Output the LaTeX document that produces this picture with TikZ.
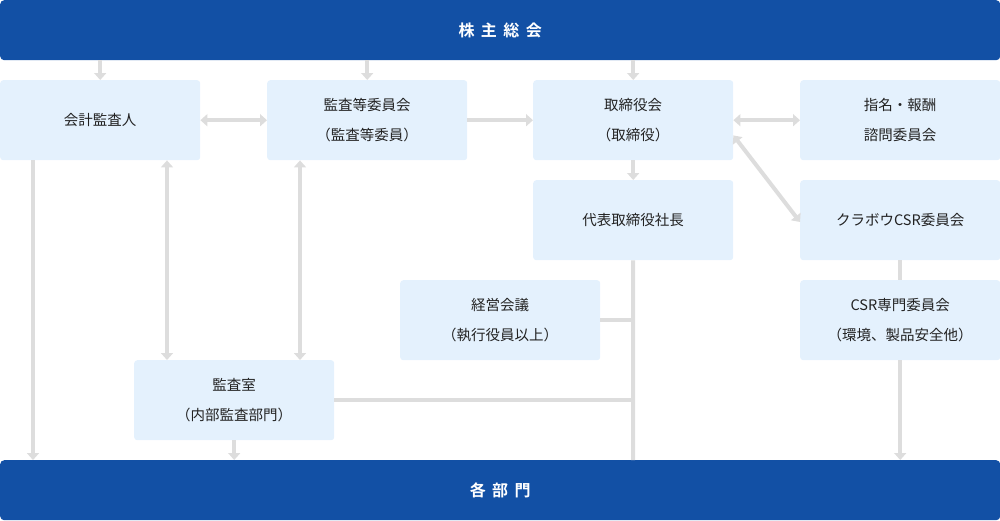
\documentclass[tikz,border=0pt]{standalone}
\usepackage{fontspec}
\newfontfamily\jp{Noto Sans CJK JP}
\newfontfamily\jptitle[LetterSpace=40]{Noto Sans CJK JP Bold}
\usetikzlibrary{arrows.meta}
\definecolor{barblue}{HTML}{1250A5}
\definecolor{boxfill}{HTML}{E4F1FD}
\definecolor{linegray}{HTML}{DDDDDD}
\definecolor{txt}{HTML}{222222}
\tikzset{
  bar/.style={fill=barblue, rounded corners=4pt, minimum width=1000pt, minimum height=60pt, inner sep=0pt, text=white, font=\jptitle\fontsize{16}{20}\selectfont, anchor=north west},
  orgbox/.style={fill=boxfill, rounded corners=3pt, minimum width=200pt, minimum height=80pt, inner sep=0pt, text=txt, align=center, font=\jp\fontsize{14.5}{30}\selectfont, anchor=north west},
  conn/.style={draw=linegray, line width=4pt},
  arr/.style={conn, -{Triangle[length=7pt,width=12pt]}},
  darr/.style={conn, {Triangle[length=7pt,width=12pt]}-{Triangle[length=7pt,width=12pt]}},
}
\begin{document}
\begin{tikzpicture}[x=1pt,y=-1pt]
\useasboundingbox (0,0) rectangle (1000,520);
\node[bar] (top) at (0,0) {株主総会};
\node[bar] (bottom) at (0,460) {各部門};
\node[orgbox] (kaikei) at (0,80) {会計監査人};
\node[orgbox] (kansa) at (267,80) {監査等委員会\\（監査等委員）};
\node[orgbox] (torishimari) at (533,80) {取締役会\\（取締役）};
\node[orgbox] (shimei) at (800,80) {指名・報酬\\諮問委員会};
\node[orgbox] (shacho) at (533,180) {代表取締役社長};
\node[orgbox] (csr) at (800,180) {クラボウCSR委員会};
\node[orgbox] (keiei) at (400,280) {経営会議\\（執行役員以上）};
\node[orgbox] (csrsenmon) at (800,280) {CSR専門委員会\\（環境、製品安全他）};
\node[orgbox] (kansashitsu) at (134,360) {監査室\\（内部監査部門）};
\coordinate (trunk) at (633,460);
% top bar to row 1
\draw[arr] (top.south -| kaikei.north) -- (kaikei.north);
\draw[arr] (top.south -| kansa.north) -- (kansa.north);
\draw[arr] (top.south -| torishimari.north) -- (torishimari.north);
% row 1 horizontal
\draw[darr] (kaikei.east) -- (kansa.west);
\draw[arr] (kansa.east) -- (torishimari.west);
\draw[darr] (torishimari.east) -- (shimei.west);
\draw[darr] ([yshift=25pt]torishimari.south east) -- ([yshift=-42pt]csr.north west);
\draw[arr] (torishimari.south) -- (shacho.north);
% president trunk
\draw[conn] (shacho.south) -- (trunk);
\draw[conn] (keiei.east) -- (keiei.east -| trunk);
\draw[conn] ([yshift=-40pt]kansashitsu.north east) -- ([yshift=-40pt]kansashitsu.north east -| trunk);
% CSR
\draw[conn] (csr.south) -- (csrsenmon.north);
\draw[arr] (csrsenmon.south) -- (csrsenmon.south |- bottom.north);
% audit lines
\draw[arr] ([xshift=33pt]kaikei.south west) -- ([xshift=33pt]kaikei.south west |- bottom.north);
\draw[darr] ([xshift=167pt]kaikei.south west) -- ([xshift=167pt]kaikei.south west |- kansashitsu.north);
\draw[darr] ([xshift=33pt]kansa.south west) -- ([xshift=33pt]kansa.south west |- kansashitsu.north);
\draw[arr] (kansashitsu.south) -- (kansashitsu.south |- bottom.north);
\end{tikzpicture}
\end{document}
